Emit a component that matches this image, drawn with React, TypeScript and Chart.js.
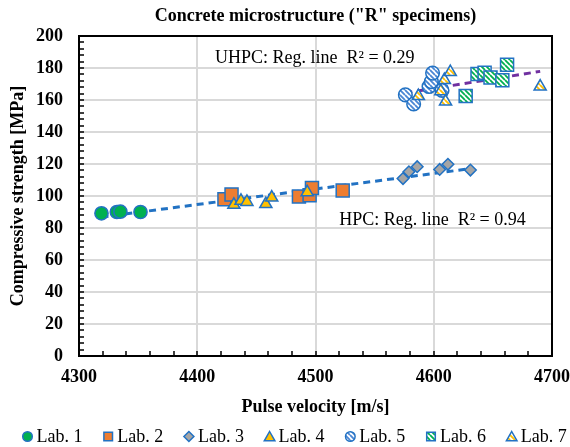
import React, { useEffect, useRef } from 'react';
import { Chart, registerables } from 'chart.js';

Chart.register(...registerables);

// ---------- data ----------
const labNames = ['Lab. 1', 'Lab. 2', 'Lab. 3', 'Lab. 4', 'Lab. 5', 'Lab. 6', 'Lab. 7'];

const lab1X = [4319, 4332, 4335, 4352];
const lab1Y = [89.2, 90, 90.2, 90];

const lab2X = [4423, 4429, 4486, 4495, 4497, 4523];
const lab2Y = [98, 101, 99.7, 100.5, 105, 103.5];

const lab3X = [4574, 4579, 4586, 4605, 4612, 4631];
const lab3Y = [110.9, 115.1, 118.3, 116.6, 119.8, 116.2];

const lab4X = [4431, 4437, 4442, 4458, 4463, 4493];
const lab4Y = [94.5, 97, 96.3, 95, 99, 102.3];

const lab5X = [4576, 4583, 4596, 4598, 4599, 4607];
const lab5Y = [163.2, 157.5, 168.4, 171.5, 176.8, 166];

const lab6X = [4627, 4637, 4643, 4648, 4658, 4662];
const lab6Y = [162.5, 176.3, 177, 174, 172.3, 182];

const lab7X = [4587, 4606, 4609, 4614, 4610, 4690];
const lab7Y = [162.5, 165.5, 172.5, 177.5, 159, 168.4];

const hpcLineX = [4319, 4632];
const hpcLineY = [86.8, 117.2];
const uhpcLineX = [4576, 4690];
const uhpcLineY = [164.4, 177.9];

const xMin = 4300;
const xMax = 4700;
const xStep = 100;
const xMinorStep = 20;
const yMin = 0;
const yMax = 200;
const yStep = 20;
const yMinorStep = 4;

const titleText = 'Concrete microstructure ("R" specimens)';
const xTitleText = 'Pulse velocity [m/s]';
const yTitleText = 'Compressive strength [MPa]';
const hpcLabel = 'HPC: Reg. line  R\u00B2 = 0.94';
const uhpcLabel = 'UHPC: Reg. line  R\u00B2 = 0.29';
const hpcLabelAnchor = { x: 4520, y: 85 };
const uhpcLabelAnchor = { x: 4415, y: 186.3 };

// ---------- styles ----------
const SERIF = '"Liberation Serif", "Times New Roman", serif';
const BORDER_BLUE = '#2272C3';
const GRID = '#D9D9D9';

function stripePattern(stripe: string, bg: string): any {
  const s = 5;
  const c = document.createElement('canvas');
  c.width = s;
  c.height = s;
  const g = c.getContext('2d');
  if (!g) return bg;
  g.fillStyle = bg;
  g.fillRect(0, 0, s, s);
  g.strokeStyle = stripe;
  g.lineWidth = 1.8;
  g.beginPath();
  for (const k of [-s, 0, s]) {
    g.moveTo(0, k);
    g.lineTo(s, s + k);
  }
  g.stroke();
  return g.createPattern(c, 'repeat') || bg;
}

function pts(xs: number[], ys: number[]) {
  return xs.map((x, i) => ({ x, y: ys[i] }));
}

function drawLegendMarker(ctx: CanvasRenderingContext2D, style: string, cx: number, cy: number, fill: any, stroke: string) {
  ctx.save();
  ctx.beginPath();
  if (style === 'circle') {
    ctx.arc(cx, cy, 4.8, 0, Math.PI * 2);
  } else if (style === 'rect') {
    ctx.rect(cx - 4.3, cy - 4.3, 8.6, 8.6);
  } else if (style === 'rectRot') {
    ctx.moveTo(cx - 5, cy);
    ctx.lineTo(cx, cy - 5);
    ctx.lineTo(cx + 5, cy);
    ctx.lineTo(cx, cy + 5);
    ctx.closePath();
  } else {
    ctx.moveTo(cx, cy - 5);
    ctx.lineTo(cx + 5.3, cy + 4.3);
    ctx.lineTo(cx - 5.3, cy + 4.3);
    ctx.closePath();
  }
  ctx.fillStyle = fill;
  ctx.fill();
  ctx.lineWidth = 1.5;
  ctx.strokeStyle = stroke;
  ctx.stroke();
  ctx.restore();
}

const decorPlugin = {
  id: 'decor',
  beforeDatasetsDraw(chart: any) {
    const { ctx, chartArea: a, scales } = chart;
    const xs = scales.x;
    const ys = scales.y;
    ctx.save();
    ctx.strokeStyle = '#000';
    ctx.lineWidth = 1.5;
    ctx.beginPath();
    for (let v = xMin; v <= xMax; v += xMinorStep) {
      const px = Math.round(xs.getPixelForValue(v));
      ctx.moveTo(px, a.bottom);
      ctx.lineTo(px, a.bottom - 5);
    }
    for (let v = yMin; v <= yMax; v += yMinorStep) {
      const py = Math.round(ys.getPixelForValue(v));
      ctx.moveTo(a.left, py);
      ctx.lineTo(a.left + 5, py);
    }
    ctx.stroke();
    ctx.lineWidth = 2;
    ctx.strokeRect(a.left, a.top, a.right - a.left, a.bottom - a.top);
    ctx.restore();
  },
  afterDraw(chart: any) {
    const { ctx, scales } = chart;
    const xs = scales.x;
    const ys = scales.y;
    ctx.save();
    ctx.fillStyle = '#000';
    ctx.font = `18px ${SERIF}`;
    ctx.textAlign = 'left';
    ctx.textBaseline = 'middle';
    ctx.fillText(uhpcLabel, xs.getPixelForValue(uhpcLabelAnchor.x), ys.getPixelForValue(uhpcLabelAnchor.y));
    ctx.fillText(hpcLabel, xs.getPixelForValue(hpcLabelAnchor.x), ys.getPixelForValue(hpcLabelAnchor.y));

    // legend
    const legendY = 437;
    const startX = 27.5;
    const spacing = 80.7;
    const dsets = chart.data.datasets.slice(0, labNames.length);
    dsets.forEach((ds: any, i: number) => {
      const cx = startX + i * spacing;
      drawLegendMarker(ctx, ds.pointStyle, cx, legendY - 0.5, ds.backgroundColor, ds.borderColor);
      ctx.fillStyle = '#000';
      ctx.fillText(ds.label, cx + 9, legendY + 0.5);
    });
    ctx.restore();
  },
};

export default function App() {
  const ref = useRef<HTMLCanvasElement | null>(null);

  useEffect(() => {
    if (!ref.current) return;
    const p5 = stripePattern('#4A86D4', '#FFFFFF');
    const p6 = stripePattern('#00B050', '#FFFFFF');
    const p7 = stripePattern('#FFC000', '#FFFFFF');

    const labSeries = [
      { x: lab1X, y: lab1Y, style: 'circle', fill: '#00B050', r: 6.6 },
      { x: lab2X, y: lab2Y, style: 'rect', fill: '#ED7D31', r: 9.2 },
      { x: lab3X, y: lab3Y, style: 'rectRot', fill: '#A5A5A5', r: 5.8 },
      { x: lab4X, y: lab4Y, style: 'triangle', fill: '#FFC000', r: 7 },
      { x: lab5X, y: lab5Y, style: 'circle', fill: p5, r: 6.8 },
      { x: lab6X, y: lab6Y, style: 'rect', fill: p6, r: 9.2 },
      { x: lab7X, y: lab7Y, style: 'triangle', fill: p7, r: 7 },
    ];

    const datasets: any[] = labSeries.map((s, i) => ({
      label: labNames[i],
      data: pts(s.x, s.y),
      pointStyle: s.style,
      pointRadius: s.r,
      pointHoverRadius: s.r,
      backgroundColor: s.fill,
      borderColor: BORDER_BLUE,
      borderWidth: 1.5,
      showLine: false,
      order: 10 - i,
    }));

    datasets.push({
      label: 'HPC regression',
      data: pts(hpcLineX, hpcLineY),
      showLine: true,
      pointRadius: 0,
      borderColor: '#2272C3',
      borderWidth: 3,
      borderDash: [7, 5],
      backgroundColor: 'transparent',
      order: 20,
    });
    datasets.push({
      label: 'UHPC regression',
      data: pts(uhpcLineX, uhpcLineY),
      showLine: true,
      pointRadius: 0,
      borderColor: '#7030A0',
      borderWidth: 3,
      borderDash: [7, 5],
      backgroundColor: 'transparent',
      order: 20,
    });

    const chart = new Chart(ref.current, {
      type: 'scatter',
      data: { datasets },
      options: {
        responsive: false,
        animation: false,
        devicePixelRatio: 1,
        layout: { padding: { left: 0, right: 18, top: 0, bottom: 23 } },
        plugins: {
          legend: { display: false },
          tooltip: { enabled: false },
          title: {
            display: true,
            text: titleText,
            fullSize: false,
            color: '#000',
            font: { family: SERIF, size: 18, weight: 'bold' },
            padding: { top: 6, bottom: 8.4 },
          },
        },
        scales: {
          x: {
            type: 'linear',
            min: xMin,
            max: xMax,
            afterFit: (s: any) => {
              s.height = 68;
              s.paddingLeft = 0;
              s.paddingRight = 0;
            },
            ticks: {
              stepSize: xStep,
              color: '#000',
              padding: 11,
              maxRotation: 0,
              font: { family: SERIF, size: 18, weight: 'bold' },
              callback: (v: any) => String(v),
            },
            grid: { color: GRID, lineWidth: 2, drawTicks: false },
            border: { display: false },
            title: {
              display: true,
              text: xTitleText,
              color: '#000',
              font: { family: SERIF, size: 18, weight: 'bold' },
              padding: { top: 0, bottom: 6 },
            },
          },
          y: {
            type: 'linear',
            min: yMin,
            max: yMax,
            afterFit: (s: any) => {
              s.width = 79;
            },
            ticks: {
              stepSize: yStep,
              color: '#000',
              padding: 16,
              font: { family: SERIF, size: 18, weight: 'bold' },
              callback: (v: any) => String(v),
            },
            grid: { color: GRID, lineWidth: 2, drawTicks: false },
            border: { display: false },
            title: {
              display: true,
              text: yTitleText,
              color: '#000',
              font: { family: SERIF, size: 18, weight: 'bold' },
              padding: { top: 7.5, bottom: 0 },
            },
          },
        },
      },
      plugins: [decorPlugin],
    } as any);

    return () => chart.destroy();
  }, []);

  return (
    <div style={{ position: 'absolute', left: 0, top: 0, width: 570, height: 447, background: '#fff' }}>
      <canvas ref={ref} width={570} height={447} style={{ display: 'block', width: 570, height: 447 }} />
    </div>
  );
}
